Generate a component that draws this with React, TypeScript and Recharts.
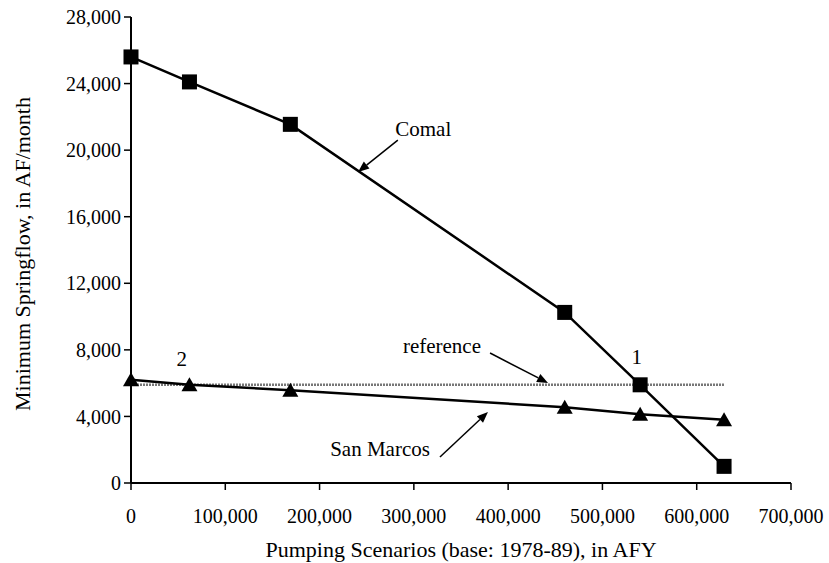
import React from 'react';
import { ComposedChart, Line, XAxis, YAxis, ReferenceLine, ReferenceDot, Label } from 'recharts';

// Pumping scenarios (AFY)
const pumping = [0, 62000, 169000, 460000, 540000, 629000];
// Minimum springflow (AF/month)
const comalFlow = [25600, 24100, 21550, 10250, 5900, 1000];
const sanMarcosFlow = [6200, 5900, 5580, 4550, 4130, 3800];
const referenceFlow = [5900, 5900, 5900, 5900, 5900, 5900];

const xTicks = [0, 100000, 200000, 300000, 400000, 500000, 600000, 700000];
const yTicks = [0, 4000, 8000, 12000, 16000, 20000, 24000, 28000];

// annotation arrows (tail -> tip), data units
const arrowTailX = [283000, 380800, 327700];
const arrowTailY = [20600, 7810, 1560];
const arrowTipX = [240800, 442300, 378600];
const arrowTipY = [18690, 6010, 4270];

// annotation texts, data units
const noteText = ['Comal', 'reference', 'San Marcos', '1', '2'];
const noteX = [310000, 329800, 264100, 536300, 53800];
const noteY = [21300, 8230, 2040, 7590, 7450];

const data = pumping.map((x, i) => ({
  x,
  comal: comalFlow[i],
  sanMarcos: sanMarcosFlow[i],
  reference: referenceFlow[i],
}));

const FONT = '"Liberation Serif", "Times New Roman", serif';
const fmt = (v: number) => v.toLocaleString('en-US');

const SquareDot = (p: any) => {
  const { cx, cy, index } = p;
  if (cx == null || cy == null) return <g key={`sq-${index}`} />;
  return <rect key={`sq-${index}`} x={cx - 7.5} y={cy - 7.5} width={15} height={15} fill="#000" />;
};

const TriangleDot = (p: any) => {
  const { cx, cy, index } = p;
  if (cx == null || cy == null) return <g key={`tr-${index}`} />;
  return (
    <polygon
      key={`tr-${index}`}
      points={`${cx},${cy - 7.5} ${cx - 8},${cy + 6.5} ${cx + 8},${cy + 6.5}`}
      fill="#000"
    />
  );
};

const ArrowShape = (p: any) => {
  const { x1, y1, x2, y2 } = p;
  const dx = x2 - x1;
  const dy = y2 - y1;
  const len = Math.sqrt(dx * dx + dy * dy) || 1;
  const ux = dx / len;
  const uy = dy / len;
  const hl = 11;
  const hw = 4.5;
  const bx = x2 - ux * hl;
  const by = y2 - uy * hl;
  return (
    <g>
      <line x1={x1} y1={y1} x2={bx} y2={by} stroke="#000" strokeWidth={1.5} />
      <polygon
        points={`${x2},${y2} ${bx - uy * hw},${by + ux * hw} ${bx + uy * hw},${by - ux * hw}`}
        fill="#000"
      />
    </g>
  );
};

const makeNote = (text: string) => (p: any) => (
  <text
    x={p.cx}
    y={p.cy}
    textAnchor="middle"
    dominantBaseline="central"
    fontFamily={FONT}
    fontSize={21}
    fill="#000"
  >
    {text}
  </text>
);

export default function App() {
  return (
    <div style={{ position: 'absolute', left: 0, top: 0, background: '#fff' }}>
      <ComposedChart
        width={829}
        height={563}
        data={data}
        margin={{ top: 17, right: 38, bottom: 0, left: 0 }}
      >
        <XAxis
          dataKey="x"
          type="number"
          domain={[0, 700000]}
          ticks={xTicks}
          tickFormatter={fmt}
          height={80}
          axisLine={{ stroke: '#000', strokeWidth: 2 }}
          tickLine={{ stroke: '#000', strokeWidth: 1.5 }}
          tickSize={7}
          tickMargin={19}
          tick={{ fill: '#000', fontFamily: FONT, fontSize: 20 }}
          interval={0}
        >
          <Label
            value="Pumping Scenarios (base: 1978-89), in AFY"
            position="insideBottom"
            offset={6}
            style={{ fill: '#000', fontFamily: FONT, fontSize: 22 }}
          />
        </XAxis>
        <YAxis
          type="number"
          domain={[0, 28000]}
          ticks={yTicks}
          tickFormatter={fmt}
          width={131}
          axisLine={{ stroke: '#000', strokeWidth: 2 }}
          tickLine={{ stroke: '#000', strokeWidth: 1.5 }}
          tickSize={7}
          tickMargin={3}
          tick={{ fill: '#000', fontFamily: FONT, fontSize: 20 }}
          interval={0}
        >
          <Label
            content={(props: any) => {
              const vb = props.viewBox || { x: 0, y: 17, width: 131, height: 466 };
              const cx = vb.x + 22;
              const cy = vb.y + vb.height / 2 + 4;
              return (
                <text
                  x={cx}
                  y={cy}
                  transform={`rotate(-90 ${cx} ${cy})`}
                  textAnchor="middle"
                  dominantBaseline="central"
                  fontFamily={FONT}
                  fontSize={22}
                  fill="#000"
                >
                  Minimum Springflow, in AF/month
                </text>
              );
            }}
          />
        </YAxis>
        <Line
          dataKey="reference"
          stroke="#777"
          strokeWidth={2.5}
          strokeDasharray="2 1"
          dot={false}
          isAnimationActive={false}
        />
        <Line
          dataKey="sanMarcos"
          stroke="#000"
          strokeWidth={2.5}
          dot={TriangleDot}
          isAnimationActive={false}
        />
        <Line
          dataKey="comal"
          stroke="#000"
          strokeWidth={2.5}
          dot={SquareDot}
          isAnimationActive={false}
        />
        {arrowTailX.map((tx, i) => (
          <ReferenceLine
            key={`arrow-${i}`}
            segment={[
              { x: tx, y: arrowTailY[i] },
              { x: arrowTipX[i], y: arrowTipY[i] },
            ]}
            shape={ArrowShape}
            ifOverflow="visible"
          />
        ))}
        {noteText.map((t, i) => (
          <ReferenceDot
            key={`note-${i}`}
            x={noteX[i]}
            y={noteY[i]}
            r={1}
            shape={makeNote(t)}
            ifOverflow="visible"
          />
        ))}
      </ComposedChart>
    </div>
  );
}
